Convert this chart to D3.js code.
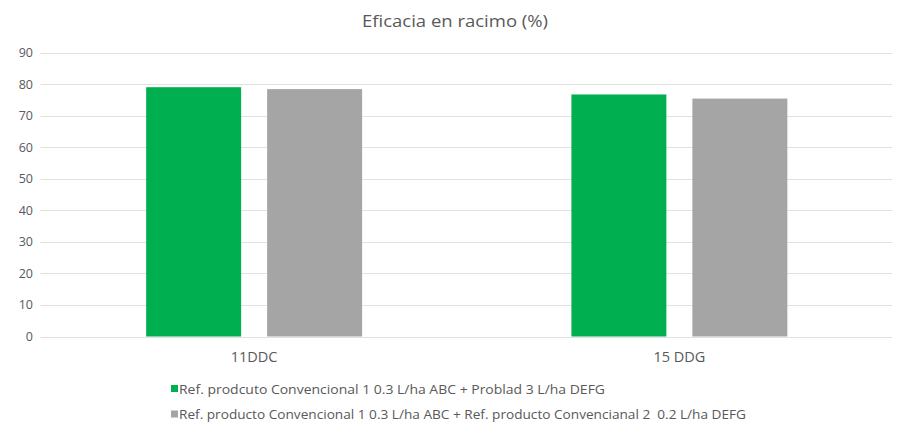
<!DOCTYPE html>
<html>
<head>
<meta charset="utf-8">
<script src="https://cdn.jsdelivr.net/npm/d3@7"></script>
<style>
  body { margin: 0; background: #fff; }
  text { font-family: "Open Sans", "Noto Sans", sans-serif; fill: #595959; white-space: pre; }
</style>
</head>
<body>
<svg id="chart" width="900" height="433"></svg>
<script>
const categories = ["11DDC", "15 DDG"];
const seriesNames = [
  "Ref. prodcuto Convencional 1 0.3 L/ha ABC + Problad 3 L/ha DEFG",
  "Ref. producto Convencional 1 0.3 L/ha ABC + Ref. producto Convencianal 2  0.2 L/ha DEFG"
];
const seriesColors = ["#00b050", "#a5a5a5"];
const greenValues = [79.0, 76.7];
const greyValues = [78.4, 75.4];
const yTicks = [0, 10, 20, 30, 40, 50, 60, 70, 80, 90];

const svg = d3.select("#chart");
const margin = {left: 41.5, right: 8};
const width = 900;

let xScale = d3.scaleBand()
  .domain(categories)
  .range([margin.left, width - margin.right])
  .padding(0);

let innerScale = d3.scaleBand()
  .domain(d3.range(seriesNames.length))
  .range([0, xScale.bandwidth()])
  .paddingInner(0.215)
  .paddingOuter(0.865);

let yScale = d3.scaleLinear()
  .domain([0, 90])
  .range([336.5, 52.5]);

// gridlines
svg.append("g")
  .selectAll("line")
  .data(yTicks)
  .enter()
  .append("line")
  .attr("x1", margin.left - 1)
  .attr("x2", width - margin.right)
  .attr("y1", function(d) { return Math.round(yScale(d)) + 0.5; })
  .attr("y2", function(d) { return Math.round(yScale(d)) + 0.5; })
  .attr("stroke", "#e1e1e1")
  .attr("stroke-width", 1);

// y axis labels
const yAxis = d3.axisLeft(yScale).tickValues(yTicks).tickSize(0).tickPadding(0);
svg.append("g")
  .attr("transform", "translate(33,0)")
  .call(yAxis)
  .call(function(g) { g.select(".domain").remove(); })
  .selectAll("text")
  .attr("font-size", "12.5px")
  .attr("fill", "#595959");

// bars
const rows = categories.map(function(c, i) { return {cat: c, values: [greenValues[i], greyValues[i]]}; });

svg.append("g")
  .selectAll("g")
  .data(rows)
  .enter()
  .append("g")
  .attr("transform", function(d) { return "translate(" + xScale(d.cat) + ",0)"; })
  .selectAll("rect")
  .data(function(d) { return d.values.map(function(v, i) { return {i: i, v: v}; }); })
  .enter()
  .append("rect")
  .attr("x", function(d) { return innerScale(d.i); })
  .attr("width", innerScale.bandwidth())
  .attr("y", function(d) { return yScale(d.v); })
  .attr("height", function(d) { return yScale(0) - yScale(d.v); })
  .attr("fill", function(d) { return seriesColors[d.i]; });

// x axis labels
const xAxis = d3.axisBottom(xScale).tickSize(0).tickPadding(0);
svg.append("g")
  .attr("transform", "translate(0,362)")
  .call(xAxis)
  .call(function(g) { g.select(".domain").remove(); })
  .selectAll("text")
  .attr("font-size", "14.5px")
  .attr("fill", "#595959")
  .attr("dy", "0");

// title
svg.append("text")
  .attr("x", 455)
  .attr("y", 27)
  .attr("text-anchor", "middle")
  .attr("font-size", "17px")
  .attr("textLength", 186)
  .attr("lengthAdjust", "spacingAndGlyphs")
  .text("Eficacia en racimo (%)");

// legend
const legendWidths = [426, 567];
const legend = svg.append("g")
  .selectAll("g")
  .data(seriesNames)
  .enter()
  .append("g")
  .attr("transform", function(d, i) { return "translate(171," + (389 + i * 25.5) + ")"; });

legend.append("rect")
  .attr("x", 0)
  .attr("y", -4)
  .attr("width", 7)
  .attr("height", 7)
  .attr("fill", function(d, i) { return seriesColors[i]; });

legend.append("text")
  .attr("x", 8)
  .attr("y", 0)
  .attr("dy", "0.36em")
  .attr("font-size", "13.5px")
  .attr("textLength", function(d, i) { return legendWidths[i]; })
  .attr("lengthAdjust", "spacingAndGlyphs")
  .text(function(d) { return d; });
</script>
</body>
</html>
